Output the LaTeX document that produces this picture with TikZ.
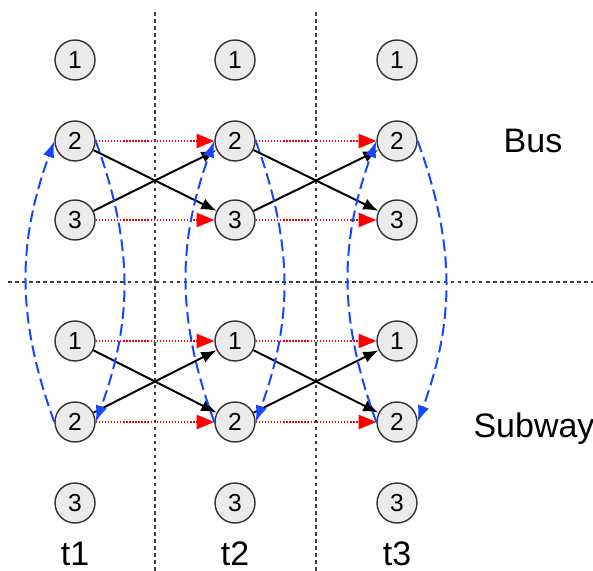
\documentclass[tikz,border=0pt]{standalone}
\usepackage{fontspec}
\setmainfont{Liberation Sans}
\usepackage{xcolor}
\usetikzlibrary{arrows.meta,positioning}

\definecolor{arcblue}{RGB}{20,70,255}

\begin{document}
\begin{tikzpicture}[
    x=0.03cm, y=-0.03cm,
    station/.style={circle, draw=black!80, fill=black!8, line width=1.2pt, minimum size=1.2cm, inner sep=0pt, font=\fontsize{21}{24}\selectfont},
    mode/.style={anchor=base, inner sep=0pt, font=\fontsize{29}{32}\selectfont},
    divider/.style={black!75, line width=0.9pt, dash pattern=on 3pt off 3pt},
    stay/.style={red, line width=1.7pt, dash pattern=on 1.2pt off 1.4pt, -{Triangle[length=15pt,width=12pt]}},
    move/.style={line width=1.7pt, -{Latex[length=13pt,width=10pt]}},
    transfer/.style={arcblue, line width=1.7pt, dash pattern=on 10pt off 4.5pt, -{Latex[length=14pt,width=10pt]}, bend left=20}
]
\useasboundingbox (0,0) rectangle (593,571);

% time and mode separators
\draw[divider] (155,12) -- (155,571);
\draw[divider] (316,12) -- (316,571);
\draw[divider] (8,282) -- (593,282);

% stations, one column per time step
\foreach \c/\x in {1/75,2/235,3/397} {
  \node[station] (b1-\c) at (\x,60) {1};
  \node[station] (b2-\c) at (\x,141) {2};
  \node[station] (b3-\c) at (\x,220) {3};
  \node[station] (s1-\c) at (\x,341) {1};
  \node[station] (s2-\c) at (\x,422) {2};
  \node[station] (s3-\c) at (\x,503) {3};
  \node[mode] (t\c) at (\x,565) {t\c};
}
\node[mode] (bus) at (533,153) {Bus};
\node[mode] (subway) at (534,437) {Subway};

% stay on line / change station
\foreach \c/\n in {1/2,2/3} {
  \draw[stay] (b2-\c) -- (b2-\n);
  \draw[stay] (b3-\c) -- (b3-\n);
  \draw[stay] (s1-\c) -- (s1-\n);
  \draw[stay] (s2-\c) -- (s2-\n);
  \draw[move] (b2-\c) -- (b3-\n);
  \draw[move] (b3-\c) -- (b2-\n);
  \draw[move] (s1-\c) -- (s2-\n);
  \draw[move] (s2-\c) -- (s1-\n);
}

% transfers between bus and subway
\foreach \c in {1,2,3} {
  \draw[transfer] (s2-\c.west) to (b2-\c.west);
  \draw[transfer] (b2-\c.east) to (s2-\c.east);
}
\end{tikzpicture}
\end{document}
